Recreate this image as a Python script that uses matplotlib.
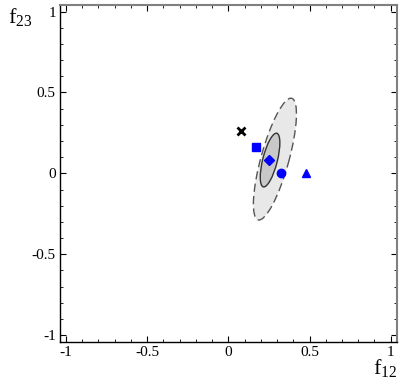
import matplotlib
matplotlib.use("Agg")
import matplotlib.pyplot as plt
from matplotlib.patches import Ellipse
from matplotlib.ticker import MultipleLocator

plt.rcParams["font.family"] = "Liberation Serif"
plt.rcParams["mathtext.fontset"] = "custom"
plt.rcParams["mathtext.rm"] = "Liberation Serif"

# Punkte (f12, f23)
cross_pt = (0.076, 0.264)
blue_x = [0.17, 0.25, 0.326, 0.476]
blue_y = [0.165, 0.082, 0.0, 0.005]
blue_markers = ["s", "D", "o", "^"]

# Ellipsen: Zentrum, Halbachsen, Winkel (Grad)
outer = dict(center=(0.287, 0.088), a=0.39, b=0.086, angle=74.6)
inner = dict(center=(0.257, 0.082), a=0.171, b=0.045, angle=75.9)

ticks = [-1, -0.5, 0, 0.5, 1]
tick_labels = ["-1", "-0.5", "0", "0.5", "1"]

fig = plt.figure(figsize=(4.09, 3.79), dpi=100)
ax = fig.add_axes([60 / 409, 1 - 342 / 379, 337 / 409, 337 / 379])

ax.add_patch(Ellipse(outer["center"], 2 * outer["a"], 2 * outer["b"],
                     angle=outer["angle"], facecolor="#e8e8e8",
                     edgecolor="#555555", linestyle=(0, (6, 3)),
                     linewidth=1.0, zorder=1))
ax.add_patch(Ellipse(inner["center"], 2 * inner["a"], 2 * inner["b"],
                     angle=inner["angle"], facecolor="#c8c8c8",
                     edgecolor="#333333", linewidth=1.0, zorder=2))

ax.plot(*cross_pt, marker="x", color="black", markersize=5.5,
        markeredgewidth=2, linestyle="none", zorder=3)
sizes = {"s": 5.5, "D": 5.0, "o": 6.0, "^": 5.5}
for x, y, m in zip(blue_x, blue_y, blue_markers):
    ax.plot(x, y, marker=m, color="blue", markersize=sizes[m],
            linestyle="none", zorder=3)

ax.set_xlim(-1.037, 1.039)
ax.set_ylim(-1.043, 1.041)
ax.set_xticks(ticks)
ax.set_xticklabels(tick_labels)
ax.set_yticks(ticks)
ax.set_yticklabels(tick_labels)
ax.xaxis.set_minor_locator(MultipleLocator(0.1))
ax.yaxis.set_minor_locator(MultipleLocator(0.1))
ax.tick_params(which="both", direction="in", top=True, right=True,
               labelsize=11, pad=3)
ax.tick_params(which="major", length=4, width=0.8)
ax.tick_params(which="minor", length=2, width=0.6)

for side in ["left", "bottom"]:
    ax.spines[side].set_color("black")
    ax.spines[side].set_linewidth(1.0)
for side in ["top", "right"]:
    ax.spines[side].set_color("#808080")
    ax.spines[side].set_linewidth(1.5)

fig.text(8 / 409, 1 - 18 / 379, r"$\mathrm{f}_{\mathrm{23}}$",
         fontsize=16, ha="left", va="center")
fig.text(397 / 409, 1 - 369 / 379, r"$\mathrm{f}_{\mathrm{12}}$",
         fontsize=16, ha="right", va="center")

fig.savefig("out.png", dpi=100)
